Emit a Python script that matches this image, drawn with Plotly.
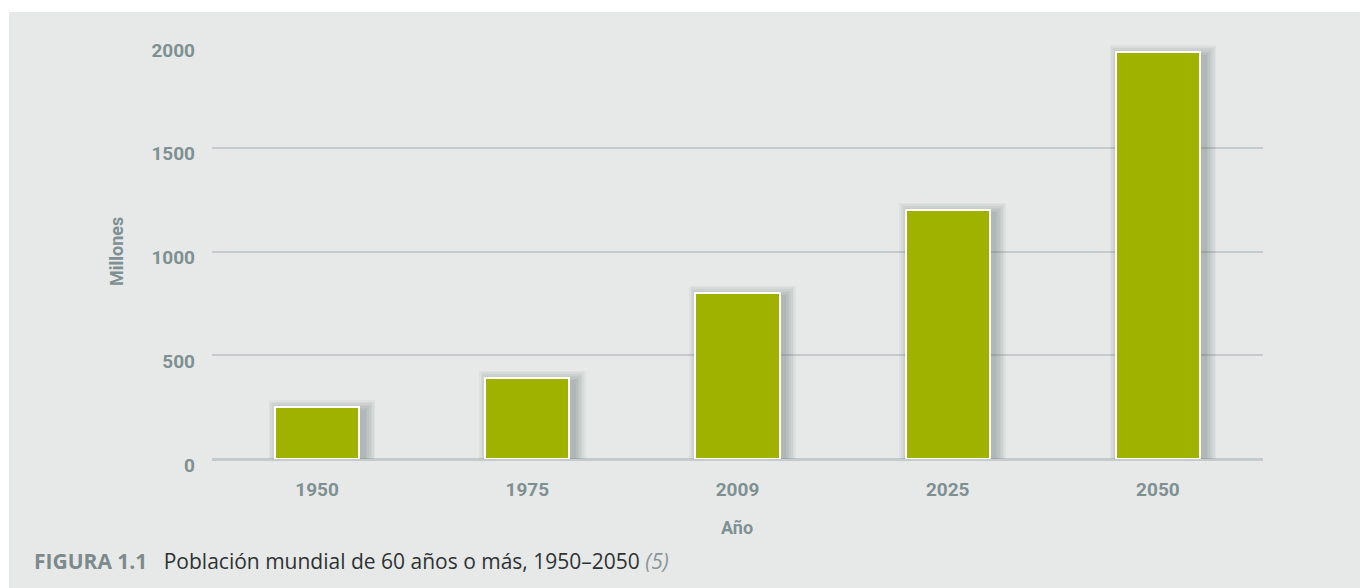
import plotly.graph_objects as go

# Population aged 60+ worldwide (millions)
years = ["1950", "1975", "2009", "2025", "2050"]
millones = [250, 390, 800, 1200, 1960]
y_ticks = [0, 500, 1000, 1500, 2000]

W, H = 1360, 588
L, R, T, B = 212, 97, 44, 129
plot_w = W - L - R
plot_h = H - T - B

BAR_W = 0.4
px = 1.0 / (plot_w / len(years))        # one pixel in category units
py = 2000.0 / plot_h                     # one pixel in value units

PANEL = "#e7e9e8"
TICK = "#7e9092"
GRID = "#c5cbcd"
BAR = "#a0b200"

fig = go.Figure()

# soft drop shadow behind each bar, built up from translucent layers
for i in range(1, 8):
    grow = 1.6 * i
    fig.add_trace(go.Bar(
        x=years,
        y=[v + (grow - 4) * py for v in millones],
        width=BAR_W + 2 * grow * px,
        offset=-BAR_W / 2 - grow * px + 5 * px,
        marker=dict(color="rgba(70,90,96,0.055)", line=dict(width=0)),
        hoverinfo="skip",
        showlegend=False,
    ))

fig.add_trace(go.Bar(
    x=years,
    y=millones,
    width=BAR_W,
    offset=-BAR_W / 2,
    marker=dict(color=BAR, line=dict(color="white", width=2)),
    showlegend=False,
))


def xp(v):
    return (v - L) / plot_w


def yp(v):
    return (H - B - v) / plot_h


fig.update_layout(
    width=W,
    height=H,
    margin=dict(l=L, r=R, t=T, b=B, pad=0),
    paper_bgcolor=PANEL,
    plot_bgcolor=PANEL,
    barmode="overlay",
    bargap=0,
    font=dict(family="Roboto", color=TICK),
    xaxis=dict(
        type="category",
        categoryorder="array",
        categoryarray=years,
        showgrid=False,
        showline=False,
        zeroline=False,
        ticks="",
        ticklabelstandoff=17,
        tickfont=dict(family="Roboto", size=19, color=TICK, weight="bold"),
        fixedrange=True,
    ),
    yaxis=dict(
        range=[0, 2000],
        tickvals=y_ticks,
        ticktext=[str(t) for t in y_ticks],
        showgrid=True,
        gridcolor=GRID,
        gridwidth=2,
        zeroline=True,
        zerolinecolor=GRID,
        zerolinewidth=3,
        showline=False,
        ticks="",
        ticklabelstandoff=16,
        ticklabelshift=6,
        tickfont=dict(family="Roboto", size=19, color=TICK, weight="bold"),
        fixedrange=True,
    ),
    shapes=[
        # white page border around the grey panel
        dict(type="rect", xref="paper", yref="paper",
             x0=xp(0), x1=xp(W), y0=yp(0), y1=yp(12),
             fillcolor="white", line=dict(width=0), layer="above"),
        dict(type="rect", xref="paper", yref="paper",
             x0=xp(0), x1=xp(9), y0=yp(0), y1=yp(H),
             fillcolor="white", line=dict(width=0), layer="above"),
    ],
    annotations=[
        dict(text="<b>Millones</b>", xref="paper", yref="paper",
             x=xp(117), y=yp(252), textangle=-90, showarrow=False,
             xanchor="center", yanchor="middle",
             font=dict(family="Roboto", size=18, color=TICK)),
        dict(text="<b>Año</b>", xref="paper", yref="paper",
             x=xp(737), y=yp(527), showarrow=False,
             xanchor="center", yanchor="middle",
             font=dict(family="Roboto", size=18, color=TICK)),
        dict(text=("<span style='color:#7d8a8c'><b>FIGURA 1.1</b></span>"
                   "   Población mundial de 60 años o más, 1950–2050 "
                   "<span style='color:#8a9496'><i>(5)</i></span>"),
             xref="paper", yref="paper",
             x=xp(32), y=yp(561), showarrow=False,
             xanchor="left", yanchor="middle",
             font=dict(family="Open Sans", size=21, color="#2e3233")),
    ],
)

fig.write_html("out.html")
